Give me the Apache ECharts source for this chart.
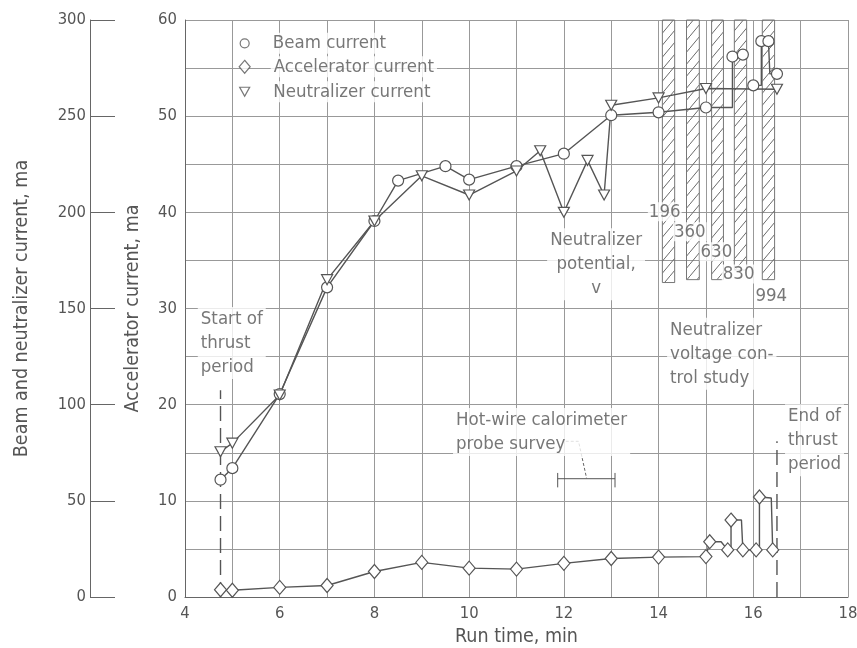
<!DOCTYPE html>
<html>
<head>
<meta charset="utf-8">
<script src="https://cdn.jsdelivr.net/npm/echarts@6/dist/echarts.min.js"></script>
<style>html,body{margin:0;padding:0;background:#fff}#c{width:857px;height:648px}</style>
</head>
<body>
<div id="c"></div>
<script>
// ---------- data (x = run time, min) ----------
// beam current, ma (left outer axis); third value: 1 = plotted marker, 0 = path corner only
const beamCurrent = [
  [4.75,61,1],[5,67,1],[6,105.5,1],[7,161,1],[8,195.5,1],[8.5,216.5,1],[9.5,224,1],[10,217,1],
  [11,224,1],[12,230.5,1],[13,250.5,1],[14,252,1],[15,254.5,1],[15.56,254.5,0],[15.56,281,1],
  [15.78,282,1],[15.9,'-',0],[16,266,1],[16.17,266,0],[16.17,289,1],[16.32,289,1],[16.35,272,0],[16.5,272,1]
];
// neutralizer current, ma (left outer axis)
const neutralizerCurrent = [
  [4.75,75.5,1],[5,80,1],[6,105,1],[7,165,1],[8,195.5,1],[9,219,1],[10,209,1],[11,221.5,1],
  [11.5,232,1],[12,200,1],[12.5,227,1],[12.85,209,1],[13,255.7,1],[14,259.5,1],[15,264.4,1],[16.5,264,1]
];
// accelerator current, ma (inner axis)
const acceleratorCurrent = [
  [4.75,0.75,1],[5,0.7,1],[6,1.0,1],[7,1.2,1],[8,2.65,1],[9,3.6,1],[10,3.0,1],[11,2.9,1],
  [12,3.5,1],[13,4.0,1],[14,4.15,1],[15,4.2,1],[15.08,5.75,1],[15.32,5.75,0],[15.46,4.9,1],
  [15.53,4.9,0],[15.53,8.0,1],[15.75,8.0,0],[15.78,4.9,1],[16.06,4.9,1],[16.13,4.9,0],
  [16.13,10.4,1],[16.38,10.3,0],[16.41,4.9,1]
];
// neutralizer potential study bands: [start, end, lower edge (inner axis units)]
const potentialBands = [[14.08,14.34,32.7],[14.59,14.86,33],[15.12,15.37,33],[15.6,15.86,34],[16.19,16.45,33]];
// band labels (volts): [x, y, text]
const potentialLabels = [[14.13,40.06,'196'],[14.66,37.98,'360'],[15.22,35.9,'630'],[15.69,33.6,'830'],[16.38,31.3,'994']];
// thrust period boundaries: [x, top (inner axis units)]
const thrustStart = [4.75, 21.5];
const thrustEnd = [16.5, 16.2];
// probe survey bracket
const probeSurvey = {from: 11.87, to: 13.08, level: 12.3, tickLow: 11.4, tickHigh: 12.9};
const probeLeader = [[12.04,16.19],[12.31,16.19],[12.48,12.35]];
// text notes: [x, y, text, anchor]  (anchor l = left edge, c = centre)
const notes = [
  [4.27,26.4,'Start of\nthrust\nperiod','l'],
  [9.66,17.15,'Hot-wire calorimeter\nprobe survey','l'],
  [16.67,16.3,'End of\nthrust\nperiod','l'],
  [12.68,34.6,'Neutralizer\npotential,\nv','c'],
  [14.18,25.3,'Neutralizer\nvoltage con-\ntrol study','l']
];
// legend entries: [x, y, text, symbol]
const legendItems = [
  [5.26,57.57,'Beam current','circle'],
  [5.26,55.13,'Accelerator current','diamond'],
  [5.26,52.54,'Neutralizer current','triangle']
];
const xTicks = [4,6,8,10,12,14,16,18];

// ---------- chart ----------
const FONT = "'DejaVu Sans Condensed','DejaVu Sans',sans-serif";
const TXT = '#555';
const LINE = '#555';
const GRID = '#999';
const NOTE_SIZE = 18.5;

const pc = document.createElement('canvas');
pc.width = 10; pc.height = 12;
const g = pc.getContext('2d');
g.strokeStyle = '#6a6a6a'; g.lineWidth = 1;
g.beginPath(); g.moveTo(0,12); g.lineTo(10,0); g.stroke();

function pts(arr) {
  return arr.map(p => {
    const it = {value: [p[0], p[1]]};
    if (!p[2]) it.symbol = 'none';
    return it;
  });
}
const hollow = {color: '#fff', borderColor: LINE, borderWidth: 1.2};

const chart = echarts.init(document.getElementById('c'), null, {renderer: 'canvas'});
chart.setOption({
  animation: false,
  backgroundColor: '#fff',
  textStyle: {fontFamily: FONT, color: TXT},
  grid: {left: 185, right: 9, top: 20, bottom: 51, containLabel: false, outerBoundsMode: 'none'},
  xAxis: {
    type: 'value', min: 4, max: 18, interval: 1,
    name: 'Run time, min', nameLocation: 'middle', nameGap: 25,
    nameTextStyle: {fontFamily: FONT, fontSize: 19.5, color: TXT},
    axisLine: {show: true, lineStyle: {color: '#666', width: 1}},
    axisTick: {show: false},
    axisLabel: {fontFamily: FONT, fontSize: 16.5, color: TXT, margin: 8,
      formatter: v => xTicks.indexOf(v) >= 0 ? String(v) : ''},
    splitLine: {show: true, lineStyle: {color: GRID, width: 1}}
  },
  yAxis: [
    {
      type: 'value', min: 0, max: 60, interval: 5, position: 'left',
      name: 'Accelerator current, ma', nameLocation: 'middle', nameGap: 42,
      nameTextStyle: {fontFamily: FONT, fontSize: 19.5, color: TXT},
      axisLine: {show: true, lineStyle: {color: '#666', width: 1}},
      axisTick: {show: false},
      axisLabel: {fontFamily: FONT, fontSize: 16.5, color: TXT, margin: 8,
        formatter: v => v % 10 === 0 ? String(v) : ''},
      splitLine: {show: true, lineStyle: {color: GRID, width: 1}}
    },
    {
      type: 'value', min: 0, max: 300, interval: 50, position: 'left', offset: 95,
      name: 'Beam and neutralizer current, ma', nameLocation: 'middle', nameGap: 58,
      nameTextStyle: {fontFamily: FONT, fontSize: 19.5, color: TXT},
      axisLine: {show: true, lineStyle: {color: '#666', width: 1}},
      axisTick: {show: true, inside: true, length: 25, lineStyle: {color: '#666', width: 1}},
      axisLabel: {fontFamily: FONT, fontSize: 16.5, color: TXT, margin: 4},
      splitLine: {show: false}
    }
  ],
  series: [
    {
      name: 'bands', type: 'line', yAxisIndex: 0, data: [], z: 1,
      markArea: {
        silent: true,
        itemStyle: {color: {image: pc, repeat: 'repeat'}, borderColor: '#777', borderWidth: 1},
        label: {show: false},
        data: potentialBands.map(b => [{xAxis: b[0], yAxis: 60}, {xAxis: b[1], yAxis: b[2]}])
      }
    },
    {
      name: 'Beam current', type: 'line', yAxisIndex: 1, z: 5,
      data: pts(beamCurrent), connectNulls: false,
      symbol: 'circle', symbolSize: 11, itemStyle: hollow,
      lineStyle: {color: LINE, width: 1.4}
    },
    {
      name: 'Neutralizer current', type: 'line', yAxisIndex: 1, z: 5,
      data: pts(neutralizerCurrent),
      symbol: 'triangle', symbolRotate: 180, symbolSize: [11, 10], itemStyle: hollow,
      lineStyle: {color: LINE, width: 1.4}
    },
    {
      name: 'Accelerator current', type: 'line', yAxisIndex: 0, z: 5,
      data: pts(acceleratorCurrent),
      symbol: 'diamond', symbolSize: [12, 14], itemStyle: hollow,
      lineStyle: {color: LINE, width: 1.4}
    },
    {
      name: 'thrustStart', type: 'line', yAxisIndex: 0, z: 3, symbol: 'none',
      data: [[thrustStart[0], 0], [thrustStart[0], thrustStart[1]]],
      lineStyle: {color: LINE, width: 1.4, type: [15, 7]}
    },
    {
      name: 'thrustEnd', type: 'line', yAxisIndex: 0, z: 3, symbol: 'none',
      data: [[thrustEnd[0], 0], [thrustEnd[0], thrustEnd[1]]],
      lineStyle: {color: LINE, width: 1.4, type: [15, 7]}
    },
    {
      name: 'probeBar', type: 'line', yAxisIndex: 0, z: 3, symbol: 'none',
      data: [[probeSurvey.from, probeSurvey.level], [probeSurvey.to, probeSurvey.level]],
      lineStyle: {color: LINE, width: 1}
    },
    {
      name: 'probeTickA', type: 'line', yAxisIndex: 0, z: 3, symbol: 'none',
      data: [[probeSurvey.from, probeSurvey.tickLow], [probeSurvey.from, probeSurvey.tickHigh]],
      lineStyle: {color: LINE, width: 1}
    },
    {
      name: 'probeTickB', type: 'line', yAxisIndex: 0, z: 3, symbol: 'none',
      data: [[probeSurvey.to, probeSurvey.tickLow], [probeSurvey.to, probeSurvey.tickHigh]],
      lineStyle: {color: LINE, width: 1}
    },
    {
      name: 'probeLeader', type: 'line', yAxisIndex: 0, z: 3, symbol: 'none',
      data: probeLeader,
      lineStyle: {color: LINE, width: 0.9, type: [3, 2]}
    },
    {
      name: 'notes', type: 'scatter', yAxisIndex: 0, z: 6, symbolSize: 0, silent: true,
      data: notes.map(n => ({
        value: [n[0], n[1]],
        label: {
          show: true, formatter: n[2],
          position: n[3] === 'c' ? 'inside' : 'right', distance: 0,
          align: n[3] === 'c' ? 'center' : 'left', verticalAlign: 'middle',
          fontFamily: FONT, fontSize: NOTE_SIZE, lineHeight: 24, color: TXT,
          backgroundColor: '#fff', padding: [0, 3]
        }
      }))
    },
    {
      name: 'bandLabels', type: 'scatter', yAxisIndex: 0, z: 6, symbolSize: 0, silent: true,
      data: potentialLabels.map(n => ({
        value: [n[0], n[1]],
        label: {
          show: true, formatter: n[2], position: 'inside',
          align: 'center', verticalAlign: 'middle',
          fontFamily: FONT, fontSize: NOTE_SIZE, color: TXT,
          backgroundColor: '#fff', padding: [0, 1]
        }
      }))
    },
    {
      name: 'legendKeys', type: 'scatter', yAxisIndex: 0, z: 6, silent: true,
      data: legendItems.map(n => ({
        value: [n[0], n[1]],
        symbol: n[3],
        symbolRotate: n[3] === 'triangle' ? 180 : 0,
        symbolSize: n[3] === 'diamond' ? [11, 13] : (n[3] === 'triangle' ? [10, 9] : 9),
        itemStyle: {color: '#fff', borderColor: LINE, borderWidth: 1.2},
        label: {
          show: true, formatter: n[2], position: 'right', distance: 20,
          align: 'left', verticalAlign: 'middle',
          fontFamily: FONT, fontSize: NOTE_SIZE, color: TXT,
          backgroundColor: '#fff', padding: [1, 3]
        }
      }))
    }
  ]
});
</script>
</body>
</html>
